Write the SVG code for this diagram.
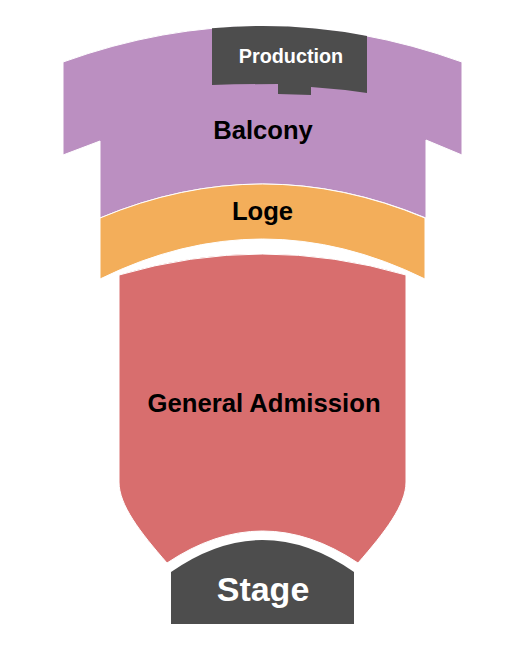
<svg xmlns="http://www.w3.org/2000/svg" width="525" height="650" viewBox="0 0 525 650">
<style>
.sec{stroke:#ffffff;stroke-width:1}
.lbl{font-family:"Liberation Sans",Arial,sans-serif;font-weight:bold;text-anchor:middle}
.dark{fill:#4d4d4d}
</style>
<rect width="525" height="650" fill="#ffffff"/>
<g id="balcony">
<path class="sec" fill="#bb8fc1" d="M63,62 Q262.5,-10 462,62 L462,155 L426,140 L426,218 Q262.5,150 100,218 L100,141 L63,155 Z"/>
<text class="lbl" x="263" y="139" font-size="25.6" fill="#000000">Balcony</text>
</g>
<g id="production">
<path class="dark" d="M212,28.3 Q289.6,21.2 367,35.9 L367,93 Q340,89 311,87 L311,95 L278,94 L278,84 Q245,84 212,85 Z"/>
<text class="lbl" x="291" y="63" font-size="19.8" fill="#ffffff">Production</text>
</g>
<g id="loge">
<path class="sec" fill="#f3ae5a" d="M100,218 Q262.5,150 425,218 L425,279 Q262.5,199 100,279 Z"/>
<text class="lbl" x="262.5" y="220" font-size="25.6" fill="#000000">Loge</text>
</g>
<g id="general-admission">
<path class="sec" fill="#d86e6e" d="M119,275 Q262.5,233 406,275 L406,482 C406,505 385,532 358,563 Q262.5,499 167,563 C140,532 119,505 119,482 Z"/>
<text class="lbl" x="264" y="412" font-size="25.7" fill="#000000">General Admission</text>
</g>
<g id="stage">
<path class="dark" d="M171,572 Q262.5,508 354,572 L354,624 L171,624 Z"/>
<text class="lbl" x="263" y="601" font-size="34" fill="#ffffff">Stage</text>
</g>
<g id="connectors"></g>
</svg>
